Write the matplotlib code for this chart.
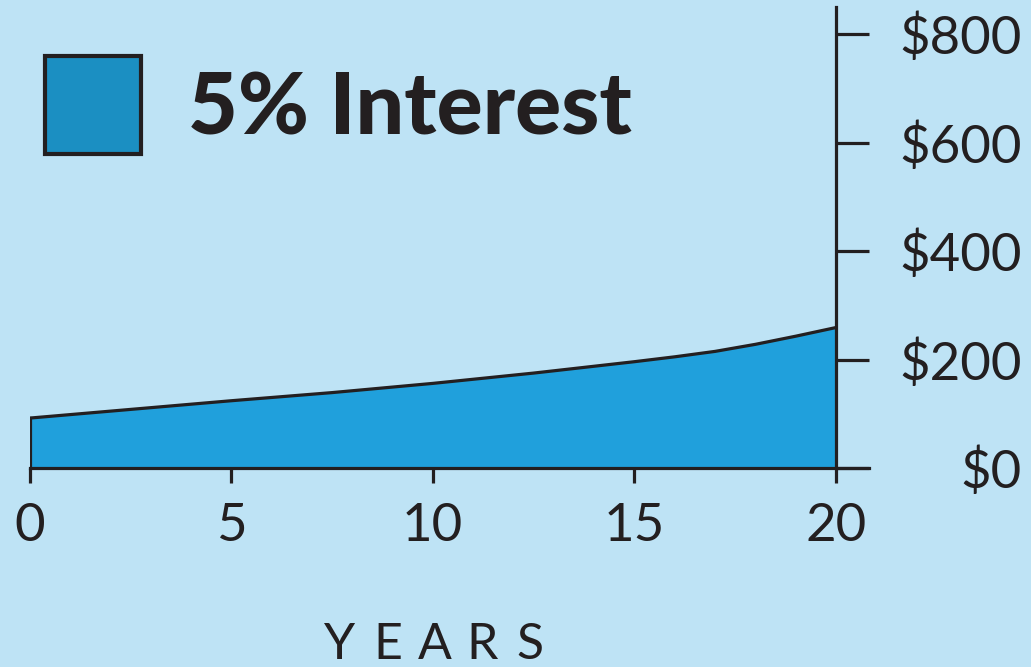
import numpy as np
import matplotlib.pyplot as plt

# values
years = [0, 2.5, 5, 7.5, 10, 12.5, 15, 16, 17, 18, 19, 20]
balance = [92, 108, 124, 139, 156, 175, 196, 205, 215, 228, 243, 259]
x_ticks = [0, 5, 10, 15, 20]
y_ticks = [0, 200, 400, 600, 800]
y_labels = ['$0', '$200', '$400', '$600', '$800']
legend_label = '5% Interest'
axis_title = 'YEARS'

bg = '#bee3f5'
fill = '#20a0dc'
dark = '#231f20'

plt.rcParams['font.family'] = ['Lato', 'DejaVu Sans']

fig = plt.figure(figsize=(10.31, 6.67), dpi=100, facecolor=bg)
ax = fig.add_axes([29.5 / 1031, 1 - 468 / 667, 839.5 / 1031, 461 / 667])
ax.set_facecolor(bg)

ax.fill_between(years, balance, 0, color=fill, zorder=1)
ax.plot(years, balance, color=dark, lw=2.3, zorder=2)
ax.plot([0, 0], [0, balance[0]], color=dark, lw=2.3, zorder=2)

ax.set_xlim(0, 20 * 839.5 / 806.5)
ax.set_ylim(0, 850)

for s in ['top', 'left']:
    ax.spines[s].set_visible(False)
ax.spines['right'].set_position(('data', 20))
ax.spines['right'].set_bounds(0, 850)
ax.spines['bottom'].set_color(dark)
ax.spines['right'].set_color(dark)
ax.spines['bottom'].set_linewidth(2.3)
ax.spines['right'].set_linewidth(2.3)
ax.spines['bottom'].set_zorder(3)

ax.set_xticks(x_ticks)
ax.set_xticklabels([str(t) for t in x_ticks])
ax.tick_params(axis='x', direction='out', length=11, width=2.3, color=dark,
               pad=14, labelsize=38, labelcolor=dark)

ax.yaxis.tick_right()
ax.set_yticks(y_ticks)
ax.set_yticklabels(y_labels)
ax.tick_params(axis='y', direction='out', length=24, width=2.3, color=dark,
               pad=110, labelsize=38, labelcolor=dark)
for lab in ax.get_yticklabels():
    lab.set_horizontalalignment('right')

# widely spaced axis title, one letter at a time
for i, ch in enumerate(axis_title):
    fig.text((340 + 47.5 * i) / 1031, 1 - 645 / 667, ch, ha='center', va='center',
             fontsize=36, color=dark)

# legend box + label
fig.patches.append(plt.Rectangle((45 / 1031, 1 - 154 / 667), 96 / 1031, 98 / 667,
                                 transform=fig.transFigure, facecolor='#1b8fc2',
                                 edgecolor=dark, lw=3))
fig.text(188 / 1031, 1 - 110 / 667, legend_label, ha='left', va='center',
         fontsize=62, fontweight='black', color=dark)

plt.savefig('out.png', dpi=100, facecolor=bg)
